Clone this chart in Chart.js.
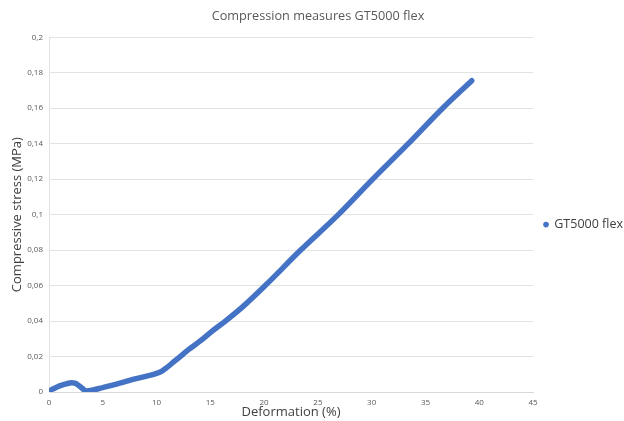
<!DOCTYPE html>
<html>
<head>
<meta charset="utf-8">
<script src="https://cdn.jsdelivr.net/npm/chart.js@4/dist/chart.umd.min.js"></script>
<style>
html,body{margin:0;padding:0;background:#fff;}
#wrap{width:624px;height:421px;position:relative;}
</style>
</head>
<body>
<div id="wrap"><canvas id="c" width="624" height="421"></canvas></div>
<script>
const chartTitle = "Compression measures GT5000 flex";
const seriesName = "GT5000 flex";
const xTitle = "Deformation (%)";
const yTitle = "Compressive stress (MPa)";
const deformation = [0, 0.4, 0.8, 1.2, 1.6, 2.1, 2.4, 2.7, 3.0, 3.2, 3.5, 4, 5, 6, 7, 8, 9, 10, 10.5, 11, 11.5, 12, 13, 14, 15, 16.4, 18, 20.1, 23.4, 26.9, 30.1, 33.4, 36.6, 39.3];
const stress = [0.0005, 0.0018, 0.003, 0.0039, 0.0046, 0.0052, 0.005, 0.004, 0.0025, 0.0015, 0.0006, 0.001, 0.0025, 0.004, 0.0057, 0.0074, 0.0088, 0.0105, 0.0118, 0.014, 0.0165, 0.019, 0.024, 0.0285, 0.0335, 0.040, 0.048, 0.060, 0.080, 0.100, 0.120, 0.140, 0.160, 0.1755];
const xTicks = [0, 5, 10, 15, 20, 25, 30, 35, 40, 45];
const yTicks = [0, 0.02, 0.04, 0.06, 0.08, 0.1, 0.12, 0.14, 0.16, 0.18, 0.2];

const points = deformation.map((x, i) => ({x: x, y: stress[i]}));
const fam = "'Open Sans', 'Noto Sans', sans-serif";

new Chart(document.getElementById('c'), {
  type: 'scatter',
  data: {
    datasets: [{
      label: seriesName,
      data: points,
      showLine: true,
      borderColor: '#4472C4',
      backgroundColor: '#4472C4',
      borderWidth: 5.5,
      borderCapStyle: 'round',
      borderJoinStyle: 'round',
      cubicInterpolationMode: 'monotone',
      pointRadius: 0,
      pointHoverRadius: 0
    }]
  },
  options: {
    responsive: false,
    animation: false,
    devicePixelRatio: 1,
    layout: {padding: {left: 3, right: -9, top: 0, bottom: 0}},
    plugins: {
      title: {
        display: true,
        text: chartTitle,
        color: '#595959',
        font: {family: fam, size: 12.7, weight: 'normal'},
        padding: {top: 9, bottom: 13}
      },
      legend: {
        position: 'right',
        title: {display: true, text: ' ', font: {size: 1}, padding: {top: 14, bottom: 13}},
        labels: {
          usePointStyle: true,
          pointStyle: 'circle',
          boxWidth: 4,
          boxHeight: 4,
          color: '#404040',
          font: {family: fam, size: 12.5},
          padding: 11,
          generateLabels: (chart) => {
            const items = Chart.defaults.plugins.legend.labels.generateLabels(chart);
            items.forEach(it => { it.lineWidth = 0; it.strokeStyle = '#4472C4'; it.fillStyle = '#4472C4'; });
            return items;
          }
        }
      },
      tooltip: {enabled: false}
    },
    scales: {
      x: {
        type: 'linear',
        min: 0,
        max: 45,
        afterBuildTicks: s => { s.ticks = xTicks.map(v => ({value: v})); },
        afterFit: s => { s.height = 29; },
        grid: {display: false, drawTicks: false},
        border: {display: true, color: '#d9d9d9', width: 1},
        ticks: {color: '#595959', font: {family: fam, size: 8}, padding: 6, maxRotation: 0},
        title: {display: true, text: xTitle, color: '#404040', font: {family: fam, size: 13}, padding: {top: 0, bottom: 1}}
      },
      y: {
        type: 'linear',
        min: 0,
        max: 0.2,
        afterBuildTicks: s => { s.ticks = yTicks.map(v => ({value: v})); },
        afterFit: s => { s.width = 46; },
        grid: {display: true, color: '#e3e3e3', lineWidth: 1, drawTicks: false},
        border: {display: true, color: '#e3e3e3', width: 1},
        ticks: {
          color: '#595959',
          font: {family: fam, size: 8},
          padding: 6,
          callback: v => String(+Number(v).toFixed(2)).replace('.', ',')
        },
        title: {display: true, text: yTitle, color: '#404040', font: {family: fam, size: 13}, padding: {top: 6, bottom: 0}}
      }
    }
  }
});
</script>
</body>
</html>
